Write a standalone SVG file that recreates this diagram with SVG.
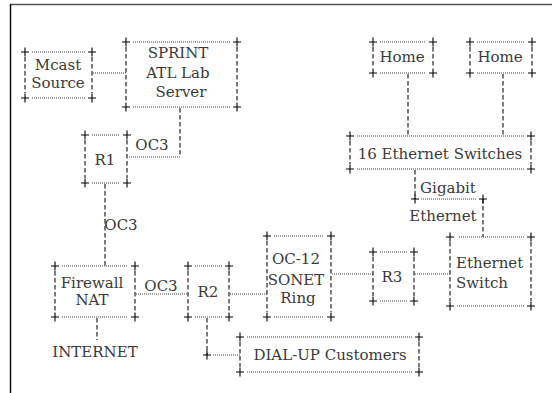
<svg xmlns="http://www.w3.org/2000/svg" xmlns:xlink="http://www.w3.org/1999/xlink" width="552" height="393" viewBox="0 0 552 393">
<style>
.h{stroke:#444;stroke-width:1;stroke-dasharray:1 1;fill:none}
.v{stroke:#111;stroke-width:1.1;stroke-dasharray:4.5 2.5;fill:none}
.x{stroke:#000;stroke-width:1.1;fill:none}
text{font-family:"DejaVu Serif","Liberation Serif",serif;font-size:15px;fill:#3a3a3a}
.m{text-anchor:middle}
</style>
<defs><path id="c" class="x" d="M-4,0H4M0,-4.5V4.5"/></defs>
<rect width="552" height="393" fill="#fff"/>
<line x1="10" y1="4.5" x2="552" y2="4.5" stroke="#555" stroke-width="1.5"/>
<line x1="10.5" y1="4" x2="10.5" y2="393" stroke="#111" stroke-width="1.5"/>

<g id="connectors">
<line class="h" x1="93" y1="73" x2="126" y2="73"/>
<line class="v" x1="180" y1="108" x2="180" y2="157"/>
<line class="h" x1="180" y1="157" x2="128" y2="157"/>
<line class="v" x1="105" y1="184" x2="105" y2="266"/>
<line class="h" x1="136" y1="294" x2="188" y2="294"/>
<line class="h" x1="230" y1="294" x2="267" y2="294"/>
<line class="h" x1="332" y1="274" x2="373" y2="274"/>
<line class="h" x1="415" y1="274" x2="450" y2="274"/>
<line class="v" x1="408" y1="74" x2="408" y2="136"/>
<line class="v" x1="503" y1="74" x2="503" y2="136"/>
<line class="v" x1="415" y1="170" x2="415" y2="199"/>
<use xlink:href="#c" x="415" y="199"/>
<line class="h" x1="421" y1="199" x2="477" y2="199"/>
<use xlink:href="#c" x="483" y="199"/>
<line class="v" x1="483" y1="199" x2="483" y2="237"/>
<line class="v" x1="97" y1="318" x2="97" y2="340"/>
<line class="v" x1="207" y1="318" x2="207" y2="355"/>
<use xlink:href="#c" x="207" y="355"/>
<line class="h" x1="213" y1="355" x2="240" y2="355"/>
<text x="152" y="150" class="m">OC3</text>
<text x="121" y="230" class="m">OC3</text>
<text x="161" y="291" class="m">OC3</text>
<text x="448" y="193" class="m">Gigabit</text>
<text x="443" y="221" class="m">Ethernet</text>
</g>

<g id="mcast">
<use xlink:href="#c" x="25" y="52"/><use xlink:href="#c" x="92" y="52"/><use xlink:href="#c" x="25" y="98"/><use xlink:href="#c" x="92" y="98"/>
<line class="h" x1="32" y1="52" x2="85" y2="52"/><line class="h" x1="32" y1="98" x2="85" y2="98"/>
<line class="v" x1="25" y1="57" x2="25" y2="93"/><line class="v" x1="92" y1="57" x2="92" y2="93"/>
<text x="58" y="70" class="m">Mcast</text><text x="58" y="88" class="m">Source</text>
</g>

<g id="sprint">
<use xlink:href="#c" x="126" y="42"/><use xlink:href="#c" x="237" y="42"/><use xlink:href="#c" x="126" y="107"/><use xlink:href="#c" x="237" y="107"/>
<line class="h" x1="133" y1="42" x2="230" y2="42"/><line class="h" x1="133" y1="107" x2="230" y2="107"/>
<line class="v" x1="126" y1="47" x2="126" y2="102"/><line class="v" x1="237" y1="47" x2="237" y2="102"/>
<text x="178" y="58" class="m">SPRINT</text><text x="178" y="78" class="m">ATL Lab</text><text x="181" y="97" class="m">Server</text>
</g>

<g id="r1">
<use xlink:href="#c" x="85" y="135"/><use xlink:href="#c" x="127" y="135"/><use xlink:href="#c" x="85" y="183"/><use xlink:href="#c" x="127" y="183"/>
<line class="h" x1="92" y1="135" x2="120" y2="135"/><line class="h" x1="92" y1="183" x2="120" y2="183"/>
<line class="v" x1="85" y1="140" x2="85" y2="178"/><line class="v" x1="127" y1="140" x2="127" y2="178"/>
<text x="105" y="165" class="m">R1</text>
</g>

<g id="firewall">
<use xlink:href="#c" x="55" y="266"/><use xlink:href="#c" x="135" y="266"/><use xlink:href="#c" x="55" y="317"/><use xlink:href="#c" x="135" y="317"/>
<line class="h" x1="62" y1="266" x2="128" y2="266"/><line class="h" x1="62" y1="317" x2="128" y2="317"/>
<line class="v" x1="55" y1="271" x2="55" y2="312"/><line class="v" x1="135" y1="271" x2="135" y2="312"/>
<text x="92" y="288" class="m">Firewall</text><text x="92" y="305" class="m">NAT</text>
</g>

<g id="internet">
<text x="95" y="357" class="m">INTERNET</text>
</g>

<g id="r2">
<use xlink:href="#c" x="188" y="266"/><use xlink:href="#c" x="229" y="266"/><use xlink:href="#c" x="188" y="317"/><use xlink:href="#c" x="229" y="317"/>
<line class="h" x1="195" y1="266" x2="222" y2="266"/><line class="h" x1="195" y1="317" x2="222" y2="317"/>
<line class="v" x1="188" y1="271" x2="188" y2="312"/><line class="v" x1="229" y1="271" x2="229" y2="312"/>
<text x="208" y="297" class="m">R2</text>
</g>

<g id="sonet">
<use xlink:href="#c" x="267" y="236"/><use xlink:href="#c" x="331" y="236"/><use xlink:href="#c" x="267" y="317"/><use xlink:href="#c" x="331" y="317"/>
<line class="h" x1="274" y1="236" x2="324" y2="236"/><line class="h" x1="274" y1="317" x2="324" y2="317"/>
<line class="v" x1="267" y1="241" x2="267" y2="312"/><line class="v" x1="331" y1="241" x2="331" y2="312"/>
<text x="296" y="264" class="m">OC-12</text><text x="296" y="285" class="m">SONET</text><text x="298" y="303" class="m">Ring</text>
</g>

<g id="r3">
<use xlink:href="#c" x="373" y="252"/><use xlink:href="#c" x="414" y="252"/><use xlink:href="#c" x="373" y="301"/><use xlink:href="#c" x="414" y="301"/>
<line class="h" x1="380" y1="252" x2="407" y2="252"/><line class="h" x1="380" y1="301" x2="407" y2="301"/>
<line class="v" x1="373" y1="257" x2="373" y2="296"/><line class="v" x1="414" y1="257" x2="414" y2="296"/>
<text x="392" y="282" class="m">R3</text>
</g>

<g id="ethernet-switch">
<use xlink:href="#c" x="450" y="237"/><use xlink:href="#c" x="531" y="237"/><use xlink:href="#c" x="450" y="306"/><use xlink:href="#c" x="531" y="306"/>
<line class="h" x1="459" y1="237" x2="524" y2="237"/><line class="h" x1="457" y1="306" x2="524" y2="306"/>
<line class="v" x1="450" y1="242" x2="450" y2="301"/><line class="v" x1="531" y1="242" x2="531" y2="301"/>
<text x="456" y="268">Ethernet</text><text x="456" y="288">Switch</text>
</g>

<g id="switches16">
<use xlink:href="#c" x="350" y="136"/><use xlink:href="#c" x="531" y="136"/><use xlink:href="#c" x="350" y="169"/><use xlink:href="#c" x="531" y="169"/>
<line class="h" x1="357" y1="136" x2="524" y2="136"/><line class="h" x1="357" y1="169" x2="524" y2="169"/>
<line class="v" x1="350" y1="141" x2="350" y2="164"/><line class="v" x1="531" y1="141" x2="531" y2="164"/>
<text x="440" y="159" class="m">16 Ethernet Switches</text>
</g>

<g id="home1">
<use xlink:href="#c" x="373" y="42"/><use xlink:href="#c" x="433" y="42"/><use xlink:href="#c" x="373" y="73"/><use xlink:href="#c" x="433" y="73"/>
<line class="h" x1="380" y1="42" x2="426" y2="42"/><line class="h" x1="380" y1="73" x2="426" y2="73"/>
<line class="v" x1="373" y1="47" x2="373" y2="68"/><line class="v" x1="433" y1="47" x2="433" y2="68"/>
<text x="402" y="62" class="m">Home</text>
</g>

<g id="home2">
<use xlink:href="#c" x="470" y="42"/><use xlink:href="#c" x="532" y="42"/><use xlink:href="#c" x="470" y="73"/><use xlink:href="#c" x="532" y="73"/>
<line class="h" x1="477" y1="42" x2="525" y2="42"/><line class="h" x1="477" y1="73" x2="525" y2="73"/>
<line class="v" x1="470" y1="47" x2="470" y2="68"/><line class="v" x1="532" y1="47" x2="532" y2="68"/>
<text x="500" y="62" class="m">Home</text>
</g>

<g id="dialup">
<use xlink:href="#c" x="240" y="337"/><use xlink:href="#c" x="419" y="337"/><use xlink:href="#c" x="240" y="372"/><use xlink:href="#c" x="419" y="372"/>
<line class="h" x1="247" y1="337" x2="412" y2="337"/><line class="h" x1="247" y1="372" x2="412" y2="372"/>
<line class="v" x1="240" y1="342" x2="240" y2="367"/><line class="v" x1="419" y1="342" x2="419" y2="367"/>
<text x="330" y="360" class="m">DIAL-UP Customers</text>
</g>
</svg>
